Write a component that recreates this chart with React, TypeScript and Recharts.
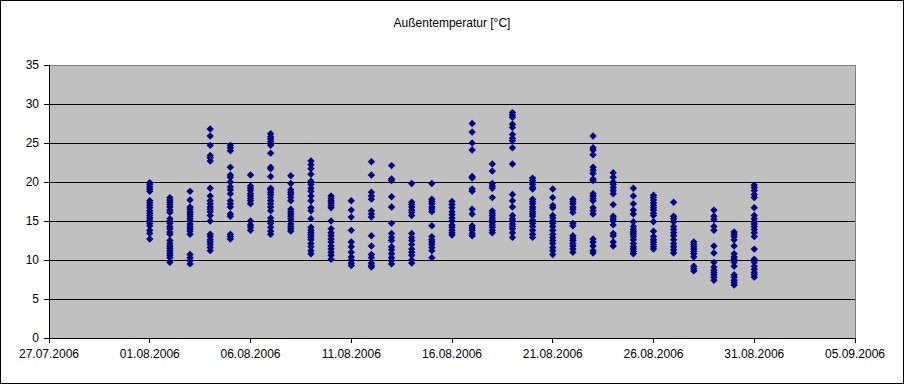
import { ScatterChart, Scatter, XAxis, YAxis, CartesianGrid, ReferenceArea } from 'recharts';

// x axis: days counted from 27.07.2006 (day 0)
const xTicks = [0, 5, 10, 15, 20, 25, 30, 35, 40];
const xTickLabels = [
  '27.07.2006', '01.08.2006', '06.08.2006', '11.08.2006', '16.08.2006',
  '21.08.2006', '26.08.2006', '31.08.2006', '05.09.2006',
];
const yTicks = [0, 5, 10, 15, 20, 25, 30, 35];

// day of August for each measurement group
const augustDays = [
  1, 2, 3, 4, 5, 6, 7, 8, 9, 10, 11, 12, 13, 14, 15, 16,
  17, 18, 19, 20, 21, 22, 23, 24, 25, 26, 27, 28, 29, 30, 31,
];

// temperatures (°C) read per day
const aug01 = [19.9, 19.7, 19.4, 19.1, 18.8, 17.6, 17.3, 17.0, 16.7, 16.3, 16.0, 15.7, 15.4, 15.1, 14.7, 14.4, 13.8, 13.4, 12.7];
const aug02 = [18.0, 17.7, 17.4, 17.1, 16.8, 16.4, 16.1, 15.3, 15.0, 14.7, 14.3, 14.0, 13.6, 13.3, 12.5, 12.1, 11.8, 11.5, 11.2, 10.9, 10.6, 10.3, 9.7];
const aug03 = [18.8, 17.7, 16.8, 16.5, 16.2, 15.9, 15.6, 15.3, 15.0, 14.6, 14.3, 14.0, 13.7, 13.3, 10.7, 10.3, 9.9, 9.5];
const aug04 = [26.8, 25.9, 24.7, 23.4, 23.1, 22.7, 19.2, 18.2, 17.6, 17.2, 16.8, 16.5, 16.2, 15.7, 15.0, 13.3, 13.0, 12.6, 12.3, 12.0, 11.6, 11.2];
const aug05 = [24.7, 24.4, 24.0, 21.9, 20.9, 20.6, 20.0, 19.4, 19.0, 18.5, 17.6, 17.2, 16.8, 15.9, 15.6, 13.3, 13.0, 12.7];
const aug06 = [20.9, 19.5, 19.2, 18.9, 18.5, 18.2, 17.9, 17.6, 17.2, 15.0, 14.5, 14.2, 13.8];
const aug07 = [26.2, 25.8, 25.5, 25.2, 24.9, 24.7, 23.7, 21.9, 21.7, 20.7, 19.2, 19.0, 18.7, 18.4, 18.0, 17.6, 17.2, 16.8, 16.3, 15.4, 15.0, 14.7, 14.2, 13.7, 13.3];
const aug08 = [20.8, 19.8, 19.0, 18.7, 18.4, 18.0, 17.6, 16.5, 16.2, 15.9, 15.6, 15.3, 15.0, 14.6, 14.3, 14.0, 13.7];
const aug09 = [22.7, 22.2, 21.7, 21.0, 20.1, 19.7, 19.2, 18.8, 18.2, 17.6, 16.7, 16.3, 15.3, 14.2, 13.8, 13.5, 13.2, 12.9, 12.6, 12.1, 11.7, 11.2, 10.8];
const aug10 = [18.2, 17.9, 17.6, 17.3, 17.0, 16.7, 15.0, 14.0, 13.5, 13.1, 12.7, 12.3, 11.8, 11.4, 11.0, 10.6, 10.1];
const aug11 = [17.6, 16.4, 15.5, 13.8, 12.3, 11.7, 11.0, 10.4, 10.0, 9.6, 9.3];
const aug12 = [22.6, 20.9, 18.7, 18.2, 17.8, 16.3, 15.9, 15.5, 13.1, 11.8, 10.7, 10.3, 9.6, 9.3, 9.1];
const aug13 = [22.1, 20.4, 20.2, 18.1, 16.8, 14.7, 13.4, 12.9, 12.5, 11.7, 11.3, 10.8, 10.3, 9.9, 9.5];
const aug14 = [19.8, 17.4, 17.1, 16.8, 16.4, 16.1, 15.7, 13.4, 12.9, 12.5, 12.0, 11.4, 11.0, 10.6, 10.0, 9.6];
const aug15 = [19.8, 17.8, 17.5, 17.2, 16.8, 16.5, 16.2, 14.4, 13.0, 12.6, 12.3, 12.0, 11.6, 11.2, 10.3];
const aug16 = [17.5, 17.1, 16.7, 16.2, 15.8, 15.4, 15.0, 14.5, 14.2, 13.8, 13.5, 13.2];
const aug17 = [27.5, 26.4, 25.0, 24.1, 20.7, 20.5, 19.1, 18.8, 16.5, 15.9, 14.4, 14.1, 13.8, 13.4, 13.1];
const aug18 = [22.3, 21.4, 19.8, 19.5, 19.2, 18.0, 16.3, 16.0, 15.7, 15.4, 15.1, 14.8, 14.5, 14.2, 13.8, 13.5];
const aug19 = [28.9, 28.6, 28.3, 27.4, 27.0, 26.1, 25.6, 25.3, 24.4, 22.3, 18.4, 17.6, 16.8, 15.7, 15.3, 15.0, 14.6, 14.3, 14.0, 13.5, 12.9];
const aug20 = [20.5, 20.2, 19.7, 19.3, 19.1, 17.8, 17.5, 17.2, 16.8, 16.5, 16.2, 15.9, 15.6, 15.1, 14.7, 14.3, 13.8, 13.3, 12.9];
const aug21 = [19.1, 18.0, 17.0, 16.7, 15.7, 15.4, 15.0, 14.7, 14.3, 13.8, 13.3, 12.9, 12.5, 12.1, 11.6, 11.2, 10.7];
const aug22 = [17.8, 17.5, 17.2, 16.8, 16.5, 16.1, 14.7, 14.4, 13.1, 12.8, 12.5, 12.1, 11.8, 11.4, 11.0];
const aug23 = [25.9, 24.4, 24.1, 23.5, 21.9, 21.5, 21.1, 20.4, 20.2, 18.5, 18.2, 17.9, 17.6, 16.7, 16.3, 15.9, 12.7, 12.3, 11.8, 11.2, 10.9];
const aug24 = [21.2, 20.6, 20.0, 19.7, 19.3, 18.9, 18.5, 17.1, 15.6, 15.3, 15.0, 14.5, 13.4, 13.1, 12.3, 11.8];
const aug25 = [19.2, 18.2, 17.2, 16.4, 15.9, 14.9, 14.3, 13.9, 13.6, 13.3, 13.0, 12.6, 12.1, 11.7, 11.4, 11.1, 10.8];
const aug26 = [18.3, 18.0, 17.7, 17.3, 17.0, 16.7, 16.4, 16.0, 15.7, 14.9, 13.7, 13.0, 12.6, 12.3, 12.0, 11.7, 11.4];
const aug27 = [17.4, 15.6, 15.3, 14.9, 14.3, 13.9, 13.5, 13.1, 12.6, 12.1, 11.7, 11.3, 10.9];
const aug28 = [12.3, 12.0, 11.7, 11.4, 11.1, 10.8, 10.4, 9.2, 8.9, 8.6];
const aug29 = [16.4, 15.6, 15.2, 14.3, 13.8, 11.8, 10.9, 9.7, 9.1, 8.7, 8.4, 8.1, 7.8, 7.4];
const aug30 = [13.6, 13.3, 13.0, 12.6, 11.8, 10.8, 10.4, 10.1, 9.7, 9.2, 8.1, 7.8, 7.4, 7.1, 6.8];
const aug31 = [19.6, 19.3, 18.9, 18.4, 18.0, 16.7, 15.7, 15.3, 14.9, 14.6, 14.3, 13.9, 13.5, 13.0, 11.4, 10.1, 9.7, 9.2, 8.8, 8.4, 8.1, 7.8];

const temps = [
  aug01, aug02, aug03, aug04, aug05, aug06, aug07, aug08, aug09, aug10, aug11,
  aug12, aug13, aug14, aug15, aug16, aug17, aug18, aug19, aug20, aug21, aug22,
  aug23, aug24, aug25, aug26, aug27, aug28, aug29, aug30, aug31,
];

// 01.08 is 5 days after 27.07
const points = augustDays.flatMap((d, i) => temps[i].map((t) => ({ x: d + 4, y: t })));

const font = '"Liberation Sans", Arial, sans-serif';

const Diamond = (props: any) => {
  const { cx, cy } = props;
  const r = 3.7;
  return (
    <polygon
      points={`${cx},${cy - r} ${cx + r},${cy} ${cx},${cy + r} ${cx - r},${cy}`}
      fill="#000080"
    />
  );
};

export default function App() {
  return (
    <div
      style={{
        position: 'absolute',
        left: 0,
        top: 0,
        width: 904,
        height: 384,
        boxSizing: 'border-box',
        border: '1px solid #000',
        background: '#fff',
        fontFamily: font,
      }}
    >
      <div style={{ position: 'absolute', top: 15, left: 0, width: 902, textAlign: 'center', fontSize: 12, lineHeight: '14px' }}>
        Außentemperatur [°C]
      </div>
      <ScatterChart width={902} height={382} margin={{ top: 64, right: 48, bottom: 0, left: 0 }}>
        <CartesianGrid fill="#C0C0C0" fillOpacity={1} stroke="#000" vertical={false} shapeRendering="crispEdges" />
        <ReferenceArea x1={0} x2={40} y1={0} y2={35} fill="none" stroke="#808080" strokeWidth={1} shapeRendering="crispEdges" />
        <XAxis
          type="number"
          dataKey="x"
          domain={[0, 40]}
          ticks={xTicks}
          interval={0}
          tickFormatter={(v) => xTickLabels[xTicks.indexOf(v)]}
          height={45}
          tickSize={5}
          tickMargin={6}
          axisLine={{ stroke: '#000', shapeRendering: 'crispEdges' }}
          tickLine={{ stroke: '#000', shapeRendering: 'crispEdges' }}
          tick={{ fill: '#000', fontSize: 12, fontFamily: font }}
        />
        <YAxis
          type="number"
          dataKey="y"
          domain={[0, 35]}
          ticks={yTicks}
          interval={0}
          width={48}
          tickSize={5}
          tickMargin={5}
          axisLine={{ stroke: '#000', shapeRendering: 'crispEdges' }}
          tickLine={{ stroke: '#000', shapeRendering: 'crispEdges' }}
          tick={{ fill: '#000', fontSize: 12, fontFamily: font }}
        />
        <Scatter data={points} shape={<Diamond />} isAnimationActive={false} />
      </ScatterChart>
    </div>
  );
}
